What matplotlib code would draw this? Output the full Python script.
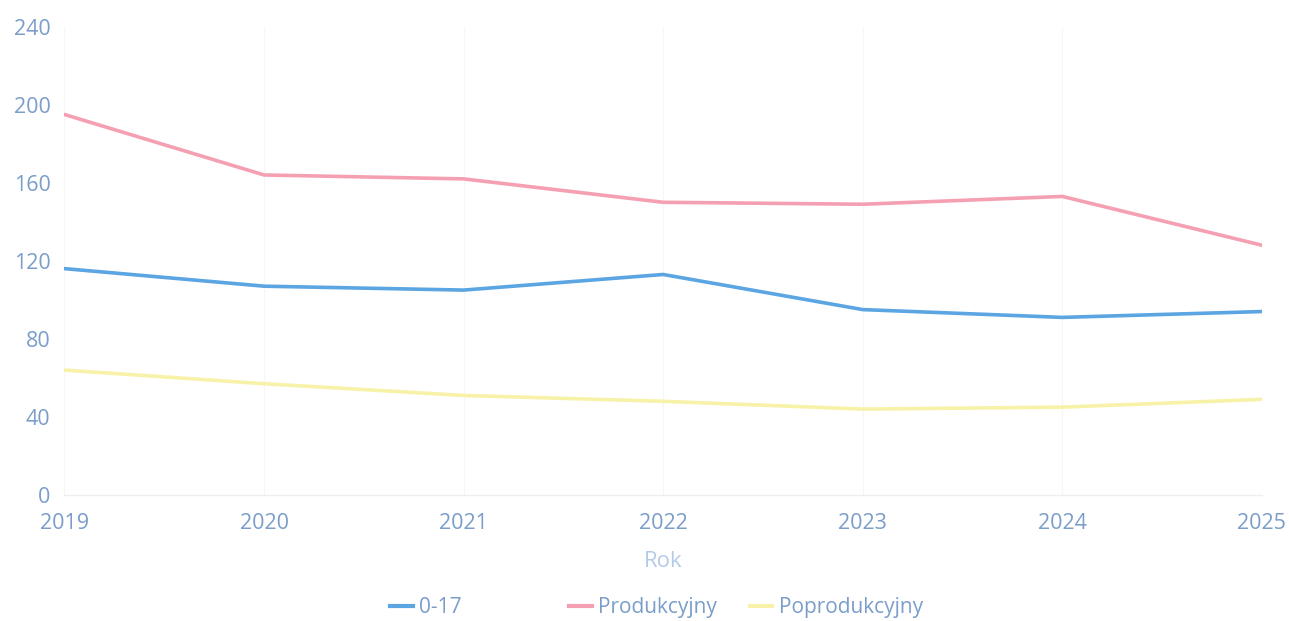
import matplotlib.pyplot as plt
from matplotlib.lines import Line2D

years = [2019, 2020, 2021, 2022, 2023, 2024, 2025]
kids = [116, 107, 105, 113, 95, 91, 94]
working = [195, 164, 162, 150, 149, 153, 128]
retired = [64, 57, 51, 48, 44, 45, 49]
yticks = [0, 40, 80, 120, 160, 200, 240]

c_kids = '#5aa5e2'
c_work = '#f5a0b2'
c_ret = '#f8f2a8'
c_tick = '#7a9dca'

plt.rcParams['font.family'] = ['Open Sans', 'DejaVu Sans']

fig = plt.figure(figsize=(12.89, 6.21), dpi=100)
ax = fig.add_axes([0.050, 0.203, 0.929, 0.754])

ax.plot(years, kids, color=c_kids, lw=2.6, solid_capstyle='round')
ax.plot(years, working, color=c_work, lw=2.6, solid_capstyle='round')
ax.plot(years, retired, color=c_ret, lw=2.6, solid_capstyle='round')

ax.set_xlim(2019, 2025)
ax.set_ylim(0, 240)
ax.set_yticks(yticks)
ax.set_xticks(years)
ax.tick_params(axis='both', length=0, labelsize=15.5, labelcolor=c_tick)
ax.tick_params(axis='x', pad=13)
ax.tick_params(axis='y', pad=10)
for s in ['top', 'right', 'left']:
    ax.spines[s].set_visible(False)
ax.spines['bottom'].set_color('#eeeeee')
ax.spines['bottom'].set_linewidth(1)
ax.grid(axis='x', color='#f6f6f6', lw=0.8)
ax.set_axisbelow(True)

ax.set_xlabel('Rok', fontsize=16, color='#b4cbe8', labelpad=12)

# legend entries sit at fixed spacing, so one small legend per series
entries = [('0-17', c_kids, 0.296), ('Produkcyjny', c_work, 0.435), ('Poprodukcyjny', c_ret, 0.575)]
for label, col, xpos in entries:
    h = Line2D([], [], color=col, lw=3)
    fig.legend([h], [label], loc='center left', bbox_to_anchor=(xpos, 0.022),
               frameon=False, fontsize=15, handlelength=1.1, handletextpad=0.3,
               labelcolor=c_tick, borderaxespad=0)

fig.savefig('out.png', dpi=100)
